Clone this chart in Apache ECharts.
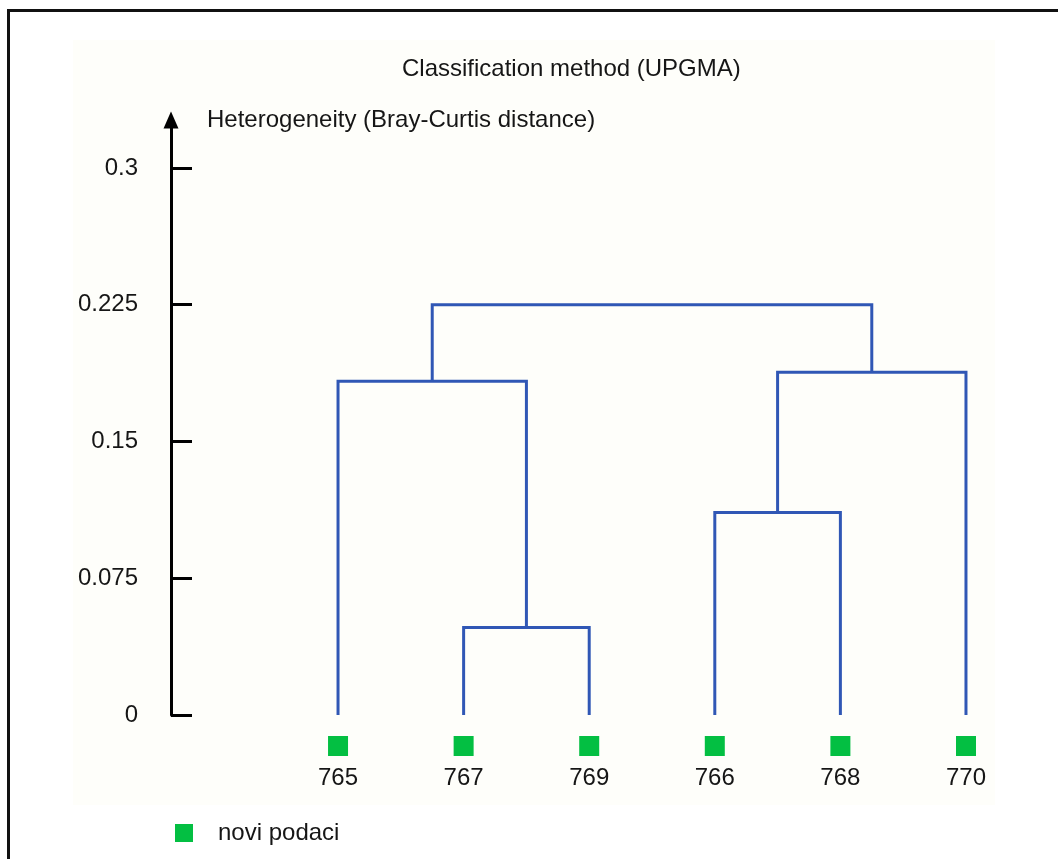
<!DOCTYPE html>
<html>
<head>
<meta charset="utf-8">
<script src="https://cdn.jsdelivr.net/npm/echarts@6/dist/echarts.min.js"></script>
<style>
  html, body { margin: 0; padding: 0; background: #fff; }
  #frame { position: absolute; left: 7px; top: 9px; width: 1100px; height: 900px;
           border-left: 3px solid #111; border-top: 3px solid #111; }
  #panel { position: absolute; left: 73px; top: 40px; width: 922px; height: 765px; background: #fefefa; }
  #chart { position: absolute; left: 0; top: 0; width: 1058px; height: 859px; }
</style>
</head>
<body>
<div id="frame"></div>
<div id="panel"></div>
<div id="chart"></div>
<script>
// leaves, in dendrogram order
const leafLabels = ['765', '767', '769', '766', '768', '770'];
// merges: cluster ids 0..5 are leaves, merge k gets id 6 + k
const mergeLeft = [1, 0, 3, 8, 7];
const mergeRight = [2, 6, 4, 5, 9];
const mergeHeight = [0.048, 0.183, 0.111, 0.188, 0.225];
const yTicks = [0, 0.075, 0.15, 0.225, 0.3];

const chart = echarts.init(document.getElementById('chart'), null, { renderer: 'canvas' });

// node positions (x = leaf index / mean of children, y = height)
const nodeX = leafLabels.map((_, i) => i);
const nodeY = leafLabels.map(() => 0);
const links = [];
mergeHeight.forEach((h, k) => {
  const a = mergeLeft[k], b = mergeRight[k];
  links.push({ coords: [[nodeX[a], nodeY[a]], [nodeX[a], h], [nodeX[b], h], [nodeX[b], nodeY[b]]] });
  nodeX.push((nodeX[a] + nodeX[b]) / 2);
  nodeY.push(h);
});

const font = 'Liberation Sans, Arial, sans-serif';
const txt = '#161616';
const green = '#03bf42';

const option = {
  backgroundColor: 'transparent',
  animation: false,
  textStyle: { fontFamily: font },
  title: {
    text: 'Classification method (UPGMA)',
    left: 397,
    top: 52,
    textStyle: { fontSize: 24, fontWeight: 'normal', color: txt, fontFamily: font }
  },
  legend: {
    left: 170,
    top: 816,
    icon: 'rect',
    itemWidth: 18,
    itemHeight: 18,
    data: ['novi podaci'],
    itemStyle: { color: green, opacity: 1 },
    textStyle: { fontSize: 24, color: txt, fontFamily: font, padding: [0, 0, 0, 20] }
  },
  grid: { left: 171, right: 60, top: 120, bottom: 144 },
  xAxis: {
    type: 'value',
    min: -1.33,
    max: 5.255,
    axisLine: { show: false, onZero: false },
    axisTick: { show: false },
    splitLine: { show: false },
    axisLabel: {
      customValues: leafLabels.map((_, i) => i),
      formatter: v => leafLabels[Math.round(v)],
      margin: 51,
      fontSize: 24,
      color: txt,
      fontFamily: font
    }
  },
  yAxis: {
    type: 'value',
    min: 0,
    max: 0.3263,
    name: 'Heterogeneity (Bray-Curtis distance)',
    nameLocation: 'end',
    nameGap: 0,
    nameTextStyle: { fontSize: 24, color: txt, fontFamily: font, align: 'left', verticalAlign: 'middle', padding: [6, 0, 0, 36] },
    axisLine: { show: true, onZero: false, symbol: ['none', 'triangle'], symbolSize: [15, 17], lineStyle: { color: '#000', width: 3 } },
    axisTick: { show: true, inside: true, length: 21, customValues: yTicks, lineStyle: { color: '#000', width: 3 } },
    axisLabel: { customValues: yTicks, margin: 33, fontSize: 24, color: txt, fontFamily: font, formatter: v => String(v) },
    splitLine: { show: false }
  },
  series: [
    {
      type: 'lines',
      coordinateSystem: 'cartesian2d',
      polyline: true,
      silent: true,
      lineStyle: { color: '#3057b5', width: 3, opacity: 1 },
      data: links
    },
    {
      name: 'novi podaci',
      type: 'scatter',
      symbol: 'rect',
      symbolSize: 20,
      symbolOffset: [0, 31],
      clip: false,
      itemStyle: { color: green, opacity: 1 },
      data: leafLabels.map((_, i) => [i, 0])
    }
  ]
};

chart.setOption(option);
window.addEventListener('resize', () => chart.resize());
</script>
</body>
</html>
